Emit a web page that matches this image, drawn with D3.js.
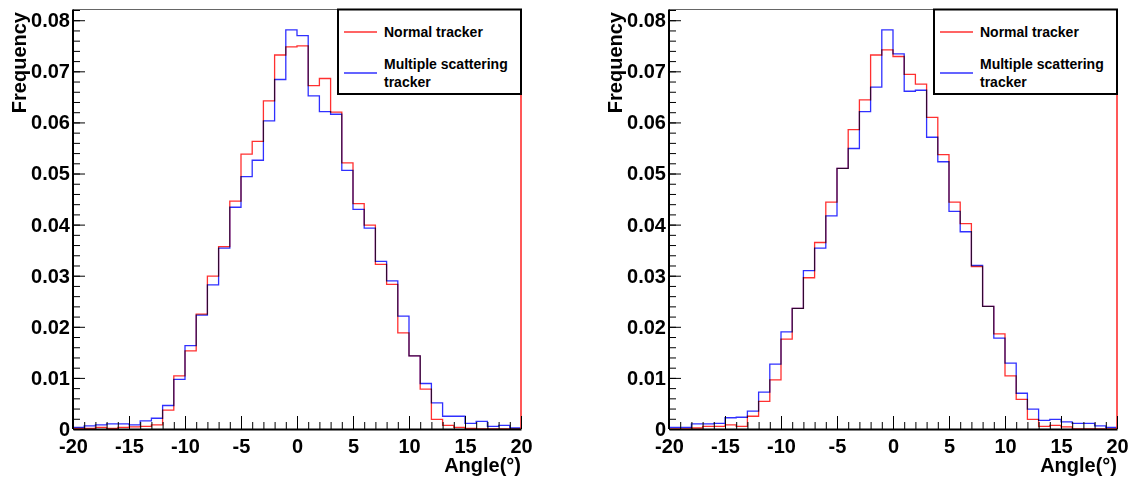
<!DOCTYPE html>
<html>
<head>
<meta charset="utf-8">
<script src="https://cdn.jsdelivr.net/npm/d3@7"></script>
<style>
  body { margin: 0; background: #fff; }
  svg { display: block; background: #fff; }
  text { font-family: "Liberation Sans", Arial, sans-serif; font-weight: bold; fill: #000; }
  .hist { fill: none; stroke-width: 1.3; mix-blend-mode: multiply; }
</style>
</head>
<body>
<svg id="chart" width="1133" height="477"></svg>
<script>
// bin lower edges -20 ... 19 (1 degree bins)
const binEdges = d3.range(-20, 20);
const xTicks = [-20, -15, -10, -5, 0, 5, 10, 15, 20];
const yTicks = [0, 0.01, 0.02, 0.03, 0.04, 0.05, 0.06, 0.07, 0.08];
const seriesNames = ["Normal tracker", "Multiple scattering tracker"];

// left plot
const leftNormal = [
  0.0001, 0.0001, 0.0003, 0.0001, 0.0003, 0.0004, 0.0005, 0.0008, 0.0037, 0.0104,
  0.0153, 0.0225, 0.0299, 0.0357, 0.0446, 0.0538, 0.0563, 0.0642, 0.0732, 0.0748,
  0.0750, 0.0672, 0.0686, 0.0620, 0.0521, 0.0441, 0.0399, 0.0322, 0.0283, 0.0188,
  0.0143, 0.0078, 0.0019, 0.0007, 0.0003, 0.0001, 0, 0, 0, 0
];
const leftMS = [
  0.0003, 0.0006, 0.0008, 0.0010, 0.0010, 0.0008, 0.0016, 0.0021, 0.0046, 0.0097,
  0.0163, 0.0223, 0.0282, 0.0354, 0.0434, 0.0494, 0.0526, 0.0603, 0.0684, 0.0781,
  0.0770, 0.0652, 0.0621, 0.0616, 0.0506, 0.0430, 0.0393, 0.0328, 0.0290, 0.0221,
  0.0143, 0.0089, 0.0051, 0.0025, 0.0025, 0.0011, 0.0015, 0.0005, 0.0007, 0.0002
];

// right plot
const rightNormal = [
  0, 0, 0.0002, 0.0005, 0.0005, 0.0008, 0.0005, 0.0025, 0.0054, 0.0096,
  0.0176, 0.0236, 0.0296, 0.0365, 0.0444, 0.0510, 0.0586, 0.0644, 0.0732, 0.0742,
  0.0729, 0.0694, 0.0675, 0.0610, 0.0537, 0.0444, 0.0402, 0.0318, 0.0240, 0.0186,
  0.0104, 0.0058, 0.0019, 0.0005, 0.0007, 0.0004, 0, 0, 0, 0
];
const rightMS = [
  0.0003, 0.0003, 0.0010, 0.0010, 0.0011, 0.0022, 0.0023, 0.0035, 0.0072, 0.0127,
  0.0190, 0.0236, 0.0310, 0.0354, 0.0417, 0.0510, 0.0549, 0.0621, 0.0669, 0.0781,
  0.0734, 0.0661, 0.0663, 0.0571, 0.0523, 0.0426, 0.0386, 0.0320, 0.0240, 0.0178,
  0.0129, 0.0070, 0.0039, 0.0017, 0.0019, 0.0014, 0.0011, 0.0011, 0.0006, 0.0003
];

const svg = d3.select("#chart");

function drawPanel(left, normal, ms) {
    const top = 9.5, bottom = 429, width = 448;
    const x = d3.scaleLinear().domain([-20, 20]).range([left, left + width]);
    const y = d3.scaleLinear().domain([0, 0.0821]).range([bottom, top]);
    const g = svg.append("g");

    // frame top (thin grey)
    g.append("line").attr("x1", left).attr("x2", left + width)
        .attr("y1", top).attr("y2", top).attr("stroke", "#666").attr("stroke-width", 1);

    // histograms
    const line = d3.line()
        .x(d => x(d[0])).y(d => y(d[1]))
        .curve(d3.curveStepAfter);
    const toPoints = vals => {
        const pts = vals.map((v, i) => [binEdges[i], v]);
        pts.push([20, vals[vals.length - 1]]);
        return pts;
    };
    g.append("path").attr("class", "hist").attr("stroke", "#3030ff").attr("d", line(toPoints(ms)));
    g.append("path").attr("class", "hist").attr("stroke", "#ff3030").attr("d", line(toPoints(normal)));

    // right edge is red in the original
    g.append("line").attr("x1", x(20)).attr("x2", x(20))
        .attr("y1", top).attr("y2", bottom).attr("stroke", "#ff2020").attr("stroke-width", 1.5);

    // x axis: minor then major ticks
    g.append("g").attr("transform", `translate(0,${bottom})`)
        .call(d3.axisBottom(x).tickValues(d3.range(-20, 21)).tickSizeInner(-7).tickSizeOuter(0).tickFormat(""))
        .call(a => a.select(".domain").remove());
    const xa = g.append("g").attr("transform", `translate(0,${bottom})`)
        .call(d3.axisBottom(x).tickValues(xTicks).tickSizeInner(-13).tickSizeOuter(0).tickPadding(10).tickFormat(d => String(d)));
    xa.select(".domain").attr("stroke-width", 2);
    xa.selectAll("text").attr("font-size", 20).style("font-family", "'Liberation Sans', Arial, sans-serif");

    // y axis
    g.append("g").attr("transform", `translate(${left},0)`)
        .call(d3.axisLeft(y).tickValues(d3.range(0, 0.0821, 0.002)).tickSizeInner(-7).tickSizeOuter(0).tickFormat(""))
        .call(a => a.select(".domain").remove());
    const ya = g.append("g").attr("transform", `translate(${left},0)`)
        .call(d3.axisLeft(y).tickValues(yTicks).tickSizeInner(-12).tickSizeOuter(0).tickPadding(3)
            .tickFormat(d => d === 0 ? "0" : d3.format(".2f")(d)));
    ya.select(".domain").attr("d", `M0,${top}V${bottom}`).attr("stroke-width", 2);
    ya.selectAll("text").attr("font-size", 20).style("font-family", "'Liberation Sans', Arial, sans-serif");

    // axis titles
    g.append("text").attr("x", left + width).attr("y", 472)
        .attr("text-anchor", "end").attr("font-size", 20).text("Angle(°)");
    g.append("text").attr("transform", `translate(${left - 47},12) rotate(-90)`)
        .attr("text-anchor", "end").attr("font-size", 20).text("Frequency");

    // legend
    const lx = left + width - 183;
    const lg = g.append("g");
    lg.append("rect").attr("x", lx).attr("y", 9.5).attr("width", 183).attr("height", 84.5)
        .attr("fill", "#fff").attr("stroke", "#000").attr("stroke-width", 2);
    const entries = [
        { color: "#ff3030", lineY: 32, lines: [seriesNames[0]], textY: [37] },
        { color: "#3030ff", lineY: 73, lines: ["Multiple scattering", "tracker"], textY: [69, 87] }
    ];
    entries.forEach(e => {
        lg.append("line").attr("x1", lx + 6).attr("x2", lx + 39)
            .attr("y1", e.lineY).attr("y2", e.lineY)
            .attr("stroke", e.color).attr("stroke-width", 1.3);
        e.lines.forEach((t, i) => {
            lg.append("text").attr("x", lx + 46).attr("y", e.textY[i])
                .attr("font-size", 14).text(t);
        });
    });
}

drawPanel(73, leftNormal, leftMS);
drawPanel(669, rightNormal, rightMS);
</script>
</body>
</html>
